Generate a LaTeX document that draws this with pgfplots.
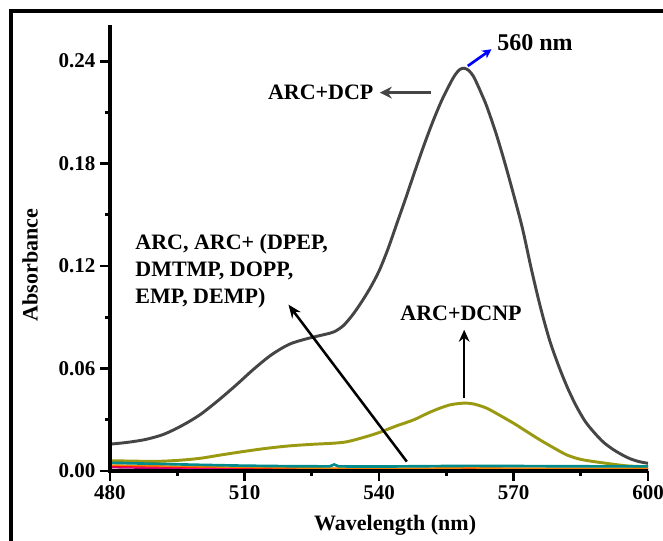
\documentclass[border=0pt]{standalone}
\usepackage{pgfplots}
\pgfplotsset{compat=1.18}
\usepackage{fontspec}
\setmainfont{Liberation Serif}
\usetikzlibrary{arrows.meta}
\definecolor{dcpgray}{HTML}{454545}
\definecolor{dcnpolive}{HTML}{999912}
\definecolor{tealc}{HTML}{008C8C}
\begin{document}
\begin{tikzpicture}
\useasboundingbox (0,0) rectangle (497.25pt,405.75pt);
\draw[line width=3pt] (7.9pt,0pt) -- (7.9pt,397.3pt) -- (497.25pt,397.3pt);
\begin{axis}[
  at={(82.5pt,52.5pt)}, anchor=south west,
  width=403.5pt, height=334.5pt, scale only axis,
  xmin=480, xmax=600, ymin=0, ymax=0.2611,
  clip=false,
  axis lines*=left,
  axis line style={line width=2.5pt, draw=black},
  xtick={480,510,540,570,600}, minor x tick num=1,
  ytick={0,0.06,0.12,0.18,0.24}, minor y tick num=1,
  tick align=outside, major tick length=7.5pt, minor tick length=3.75pt,
  tick style={line width=2.2pt, black},
  /pgf/number format/assume math mode=true,
  ticklabel style={font=\fontsize{15.75}{18}\selectfont\bfseries},
  yticklabel style={/pgf/number format/.cd, fixed, fixed zerofill, precision=2},
  xticklabel style={/pgf/number format/.cd, fixed, precision=0},
  xlabel={Wavelength (nm)},
  xlabel style={at={(rel axis cs:0.53,-0.1211)}, anchor=center, font=\fontsize{16.5}{19}\selectfont\bfseries},
  ylabel={Absorbance},
  ylabel style={at={(rel axis cs:-0.1487,0.462)}, anchor=center, font=\fontsize{16.5}{19}\selectfont\bfseries},
]
\addplot[no marks, color=dcpgray, line width=2.2pt, smooth] coordinates {
(480,0.0157) (484,0.0168) (488,0.0185) (492,0.0215) (496,0.0265) (500,0.0328)
(504,0.0410) (508,0.0500) (512,0.0595) (516,0.0680) (520,0.0742) (524,0.0775)
(528,0.0800) (530,0.0815) (532,0.0850) (534,0.0910) (536,0.0985) (538,0.1070)
(540,0.1170) (542,0.1300) (544,0.1450) (546,0.1600) (548,0.1755) (550,0.1905)
(552,0.2045) (554,0.2170) (556,0.2275) (557,0.2320) (558,0.2350) (559,0.2358)
(560,0.2345) (561,0.2313) (562,0.2260) (563,0.2200) (564,0.2137) (566,0.1985)
(568,0.1810) (570,0.1620) (572,0.1420) (574,0.1180) (576,0.0960) (578,0.0770)
(580,0.0620) (582,0.0490) (584,0.0380) (586,0.0290) (588,0.0225) (590,0.0170)
(592,0.0130) (594,0.0098) (596,0.0072) (598,0.0055) (600,0.0045)
};
\addplot[no marks, color=dcnpolive, line width=2.2pt, smooth] coordinates {
(480,0.0060) (485,0.0058) (490,0.0056) (495,0.0062) (500,0.0074) (505,0.0095)
(510,0.0115) (515,0.0133) (520,0.0147) (525,0.0156) (530,0.0163) (533,0.0172)
(537,0.0200) (540,0.0225) (544,0.0265) (547.7,0.0299) (551,0.0340) (553.6,0.0368)
(556,0.0388) (558.8,0.0397) (561,0.0393) (564,0.0368) (567,0.0325) (570,0.0280)
(573,0.0230) (575.9,0.0182) (579,0.0135) (581.9,0.0094) (585,0.0068)
(589.3,0.0050) (595.3,0.0030) (600,0.0025)
};
\addplot[no marks, color=purple!80!blue, line width=1.2pt] coordinates {
(480,0.0020) (500,0.0012) (520,0.0007) (540,0.0005) (560,0.0006) (580,0.0005) (600,0.0005)
};
\addplot[no marks, color=magenta, line width=1.2pt] coordinates {
(480,0.0025) (500,0.0016) (520,0.0010) (540,0.0008) (560,0.0010) (580,0.0008) (600,0.0008)
};
\addplot[no marks, color=red, line width=1.2pt] coordinates {
(480,0.0030) (500,0.0022) (520,0.0015) (540,0.0012) (560,0.0014) (580,0.0012) (600,0.0012)
};
\addplot[no marks, color=orange, line width=1.2pt] coordinates {
(480,0.0035) (500,0.0025) (520,0.0018) (540,0.0016) (560,0.0018) (580,0.0016) (600,0.0016)
};
\addplot[no marks, color=tealc, line width=2pt] coordinates {
(480,0.0048) (490,0.0042) (500,0.0036) (510,0.0031) (520,0.0028) (529,0.0027)
(530,0.0038) (531,0.0027) (540,0.0026) (550,0.0028) (560,0.0030) (570,0.0029)
(580,0.0028) (590,0.0027) (600,0.0027)
};
% annotations
\node[font=\fontsize{16.5}{20}\selectfont\bfseries, anchor=center] at (axis cs:527.0,0.2215) {ARC+DCP};
\draw[-{Stealth[length=9pt,width=9pt]}, line width=2.2pt, color=dcpgray] (axis cs:551.7,0.2215) -- (axis cs:540.2,0.2215);
\node[font=\fontsize{18}{21}\selectfont\bfseries, anchor=center] at (axis cs:574.8,0.2508) {560 nm};
\draw[-{Stealth[length=7pt,width=7pt]}, line width=2pt, color=blue] (axis cs:559.8,0.2371) -- (axis cs:565.1,0.2469);
\node[font=\fontsize{16.5}{20}\selectfont\bfseries, anchor=center] at (axis cs:558.3,0.0925) {ARC+DCNP};
\draw[-{Stealth[length=9pt,width=8pt]}, line width=1.9pt] (axis cs:559.0,0.0426) -- (axis cs:559.0,0.0827);
\node[font=\fontsize{16.5}{20.3}\selectfont\bfseries, anchor=north west, align=left, inner sep=0pt] at (axis cs:485.6,0.139) {ARC, ARC+ (DPEP,\\DMTMP, DOPP,\\EMP, DEMP)};
\draw[-{Stealth[length=10pt,width=8pt]}, line width=1.9pt] (axis cs:546.2,0.0055) -- (axis cs:519.8,0.0974);
\end{axis}
% axis lines and major ticks redrawn on top (axis box: x 82.5pt..486pt, y 52.5pt..387pt)
\draw[line width=2.5pt, black] (82.5pt,387pt) -- (82.5pt,51.25pt);
\draw[line width=2.5pt, black] (81.25pt,52.5pt) -- (486pt,52.5pt);
\foreach \yy in {52.5,129.36,206.22,283.08,359.94} \draw[line width=2.2pt, black] (82.5pt,\yy pt) -- (75pt,\yy pt);
\foreach \xx in {82.5,183.375,284.25,385.125,486} \draw[line width=2.2pt, black] (\xx pt,52.5pt) -- (\xx pt,45pt);
\end{tikzpicture}
\end{document}
